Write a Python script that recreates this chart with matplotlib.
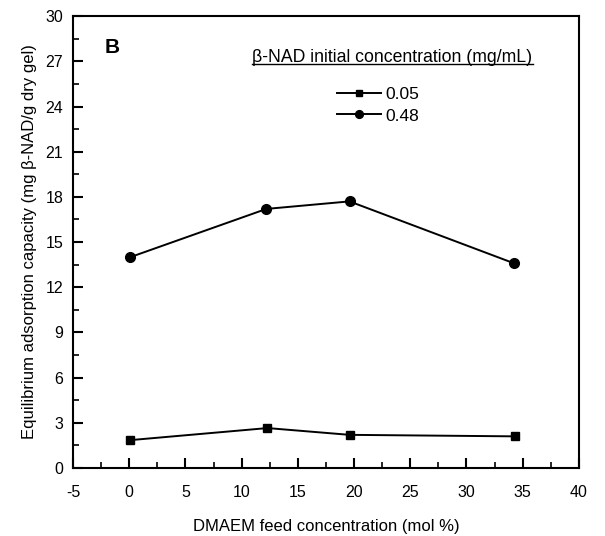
import matplotlib
matplotlib.use('Agg')
import matplotlib.pyplot as plt
from matplotlib.ticker import MultipleLocator
from matplotlib.lines import Line2D

plt.rcParams['font.family'] = ['Liberation Sans', 'DejaVu Sans']
plt.rcParams['axes.unicode_minus'] = False

# DMAEM feed concentration (mol %)
x_low = [0.1, 12.3, 19.6, 34.3]
y_low = [1.85, 2.65, 2.2, 2.1]      # 0.05 mg/mL
x_high = [0.1, 12.2, 19.6, 34.2]
y_high = [14.0, 17.2, 17.7, 13.6]   # 0.48 mg/mL
labels = ['0.05', '0.48']

fig = plt.figure(figsize=(6.05, 5.36), dpi=100)
ax = fig.add_axes([0.1207, 0.1269, 0.836, 0.843])

ax.plot(x_low, y_low, color='black', lw=1.4, marker='s', ms=6, label=labels[0])
ax.plot(x_high, y_high, color='black', lw=1.4, marker='o', ms=7, label=labels[1])

ax.set_xlim(-5, 40)
ax.set_ylim(0, 30)
ax.xaxis.set_major_locator(MultipleLocator(5))
ax.xaxis.set_minor_locator(MultipleLocator(2.5))
ax.yaxis.set_major_locator(MultipleLocator(3))
ax.yaxis.set_minor_locator(MultipleLocator(1.5))
ax.tick_params(which='major', direction='in', length=7, width=1.5, labelsize=11.5)
ax.tick_params(which='minor', direction='in', length=4.5, width=1.2)
ax.tick_params(axis='x', which='major', pad=12)
ax.tick_params(axis='y', which='major', pad=7)
for s in ax.spines.values():
    s.set_linewidth(1.5)

ax.set_xlabel('DMAEM feed concentration (mol %)', fontsize=12, labelpad=14)
ax.set_ylabel('Equilibrium adsorption capacity (mg \u03b2-NAD/g dry gel)', fontsize=12, labelpad=6)

ax.text(0.063, 0.931, 'B', transform=ax.transAxes, fontsize=15, fontweight='bold',
        ha='left', va='center')

# legend title, underlined
ax.text(0.631, 0.898, '\u03b2-NAD initial concentration (mg/mL)', transform=ax.transAxes,
        fontsize=12.7, ha='center', va='baseline')
ax.add_line(Line2D([0.353, 0.909], [0.893, 0.893], transform=ax.transAxes,
                   color='black', lw=1))

leg = ax.legend(loc='upper left', bbox_to_anchor=(0.505, 0.862), frameon=False,
                fontsize=12.5, handlelength=2.5, handletextpad=0.3, labelspacing=0.35,
                borderpad=0, markerscale=0.8)

fig.savefig('out.png', dpi=100)
